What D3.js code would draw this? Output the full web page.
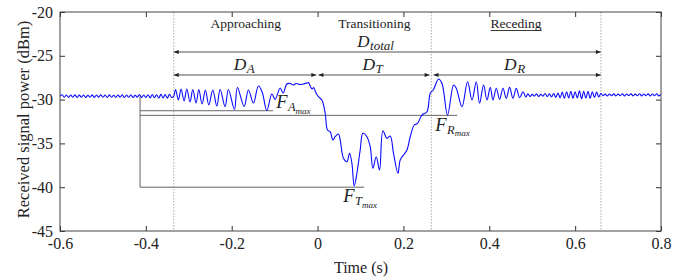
<!DOCTYPE html>
<html><head><meta charset="utf-8">
<script src="https://cdn.jsdelivr.net/npm/d3@7"></script>
<style>body{margin:0;background:#fff} svg{display:block} text{font-family:"Liberation Serif","Times New Roman","DejaVu Serif",serif;}</style>
</head><body>
<svg id="chart" width="689" height="280"></svg>
<script>
// ---------- data ----------
const xTickValues = [-0.6, -0.4, -0.2, 0, 0.2, 0.4, 0.6, 0.8];
const xTickLabels = ["-0.6", "-0.4", "-0.2", "0", "0.2", "0.4", "0.6", "0.8"];
const yTickValues = [-45, -40, -35, -30, -25, -20];
const yTickLabels = ["-45", "-40", "-35", "-30", "-25", "-20"];
const phaseNames = ["Approaching", "Transitioning", "Receding"];
const phaseBounds = [-0.335, 0, 0.265, 0.66];
const durationNames = ["A", "T", "R"];

const sampleStep = 0.005;
const preStart = -0.6;
const prePower = [-29.6,-29.45,-29.72,-29.47,-29.75,-29.48,-29.73,-29.46,-29.75,-29.49,
  -29.72,-29.47,-29.76,-29.5,-29.73,-29.46,-29.75,-29.48,-29.72,-29.46,
  -29.74,-29.48,-29.76,-29.46,-29.73,-29.5,-29.75,-29.48,-29.72,-29.45,
  -29.76,-29.48,-29.74,-29.45,-29.76,-29.5,-29.72,-29.43,-29.77,-29.47,
  -29.75,-29.44,-29.8,-29.42,-29.78,-29.44,-29.82,-29.4,-29.8,-29.42,
  -29.83,-29.4,-29.75];

const eventTimes = [-0.3354,-0.3308,-0.3242,-0.318,-0.311,-0.3047,-0.297,-0.2907,-0.283,-0.2767,
  -0.269,-0.2613,-0.2534,-0.2441,-0.2347,-0.227,-0.2154,-0.2077,-0.1937,-0.1867,
  -0.1711,-0.1611,-0.1494,-0.1378,-0.1291,-0.1182,-0.1065,-0.0988,-0.0872,-0.0802,
  -0.0716,-0.0639,-0.0562,-0.0499,-0.0406,-0.0329,-0.0249,-0.0212,-0.0172,-0.0126,
  -0.0091,-0.0056,-0.0009,0.0021,0.01,0.0177,0.0231,0.0294,0.0357,0.041,
  0.0487,0.0527,0.0604,0.0683,0.0744,0.08,0.0853,0.0916,0.0993,0.1056,
  0.1149,0.1226,0.1289,0.1366,0.1443,0.1522,0.1615,0.1692,0.1769,0.1872,
  0.1925,0.2002,0.2082,0.2159,0.2252,0.2329,0.2431,0.2548,0.2625,0.2695,
  0.2818,0.2897,0.3028,0.3168,0.3231,0.3364,0.3494,0.3597,0.3697,0.3774,
  0.3867,0.3946,0.4023,0.4086,0.4163,0.424,0.4319,0.4396,0.4473,0.4552,
  0.4629,0.4706,0.4786];
const eventPower = [-29.65,-28.85,-30.05,-28.79,-30.16,-28.79,-30.27,-28.85,-30.39,-28.85,
  -30.5,-28.9,-30.62,-28.9,-30.73,-28.85,-30.81,-28.85,-31.13,-28.62,
  -30.79,-28.9,-30.39,-28.45,-29.13,-31.24,-29.36,-29.99,-28.68,-29.25,
  -28.22,-28.16,-28.33,-28.16,-28.28,-28.22,-28.11,-28.05,-28.45,-28.79,
  -28.62,-29.02,-29.48,-29.67,-30.05,-31.53,-33.47,-33.66,-34.61,-34.24,
  -33.93,-34.61,-36.7,-37.09,-36.13,-37.27,-39.86,-38.41,-35.75,-33.85,
  -34.24,-35.38,-37.84,-36.52,-38.04,-33.55,-34.42,-34.16,-36.13,-38.41,
  -36.9,-36.32,-35.75,-34.24,-32.9,-32.71,-31.76,-31.38,-29.28,-28.9,
  -27.65,-28.14,-31.76,-28.33,-28.71,-30.81,-27.96,-30.05,-27.96,-30.42,
  -28.33,-30.05,-28.6,-30.05,-28.71,-29.97,-28.71,-29.85,-28.6,-29.85,
  -28.71,-29.78,-29.1];

const postStart = 0.485;
const postPower = [-29.7,-29.35,-29.65,-29.4,-29.6,-29.35,-29.65,-29.4,-29.6,-29.3,-29.65,-29.35,-29.7,-29.3,-29.75,-29.25,
  -29.8,-29.15,-29.85,-29.1,-29.8,-29.05,-29.85,-29.1,-29.8,-29.0,-29.9,-29.05,-29.8,-29.05,-29.85,-29.1,-29.75,-29.15,-29.7,-29.3,
  -29.55,-29.38,-29.58,-29.36,-29.56,-29.35,-29.58,-29.37,-29.55,-29.34,-29.58,-29.36,-29.54,-29.35,-29.58,-29.37,-29.56,-29.34,-29.58,-29.36,
  -29.55,-29.35,-29.58,-29.36,-29.55,-29.34,-29.57,-29.4];

const levelStart = -0.4135;
const baseLevel = -29.6;
const levelNames = ["A", "R", "T"];
const levelValues = [-31.27, -31.8, -40];
const levelEnds = [-0.1035, 0.3254, 0.1086];

// ---------- layout ----------
const W = 689, H = 280;
const m = {left: 60, right: 28, top: 12, bottom: 49};
const svg = d3.select("#chart");
const x = d3.scaleLinear().domain([-0.6, 0.8]).range([m.left, W - m.right]);
const y = d3.scaleLinear().domain([-45, -20]).range([H - m.bottom, m.top]);

const signal = [];
prePower.forEach((v, i) => signal.push([preStart + i * sampleStep, v]));
eventTimes.forEach((t, i) => signal.push([t, eventPower[i]]));
postPower.forEach((v, i) => signal.push([postStart + i * sampleStep, v]));

// markers
const defs = svg.append("defs");
defs.append("marker").attr("id", "arr").attr("viewBox", "0 0 6 6")
  .attr("markerWidth", 6).attr("markerHeight", 5).attr("refX", 6).attr("refY", 3)
  .attr("markerUnits", "userSpaceOnUse").attr("orient", "auto-start-reverse")
  .append("path").attr("d", "M0,0.5 L6,3 L0,5.5 Z").attr("fill", "#222");

// phase boundary dotted lines
svg.append("g").selectAll("line").data(phaseBounds.filter((d, i) => i !== 1)).join("line")
  .attr("x1", d => x(d)).attr("x2", d => x(d)).attr("y1", y(-20)).attr("y2", y(-45))
  .attr("stroke", "#999").attr("stroke-width", 0.8).attr("stroke-dasharray", "1.5,1.5");

// level lines
const lv = svg.append("g").attr("stroke", "#666").attr("stroke-width", 1).attr("fill", "none");
levelValues.forEach((v, i) => {
  lv.append("line").attr("x1", x(levelStart)).attr("x2", x(levelEnds[i]))
    .attr("y1", y(v)).attr("y2", y(v));
});
lv.append("line").attr("x1", x(levelStart)).attr("x2", x(levelStart))
  .attr("y1", y(baseLevel)).attr("y2", y(-40));

// signal
svg.append("path").datum(signal)
  .attr("fill", "none").attr("stroke", "#0a0aff").attr("stroke-width", 1.1)
  .attr("d", d3.line().x(d => x(d[0])).y(d => y(d[1])).curve(d3.curveCatmullRom.alpha(0.5)));

// axes
function styleAxis(g) {
  g.select(".domain").remove();
  g.attr("font-family", null);
  g.selectAll(".tick line").attr("stroke", "#333");
  g.selectAll(".tick text").attr("font-size", 16).attr("fill", "#222");
}
svg.append("g").attr("transform", `translate(0,${H - m.bottom})`)
  .call(d3.axisBottom(x).tickValues(xTickValues).tickFormat((d, i) => xTickLabels[i])
    .tickSizeInner(-5).tickSizeOuter(0).tickPadding(7)).call(styleAxis);
svg.append("g").attr("transform", `translate(0,${m.top})`)
  .call(d3.axisTop(x).tickValues(xTickValues).tickFormat("").tickSizeInner(-5).tickSizeOuter(0)).call(styleAxis);
svg.append("g").attr("transform", `translate(${m.left},0)`)
  .call(d3.axisLeft(y).tickValues(yTickValues).tickFormat((d, i) => yTickLabels[i])
    .tickSizeInner(-5).tickSizeOuter(0).tickPadding(7)).call(styleAxis);
svg.append("g").attr("transform", `translate(${W - m.right},0)`)
  .call(d3.axisRight(y).tickValues(yTickValues).tickFormat("").tickSizeInner(-5).tickSizeOuter(0)).call(styleAxis);
svg.append("rect").attr("x", m.left).attr("y", m.top)
  .attr("width", W - m.left - m.right).attr("height", H - m.top - m.bottom)
  .attr("fill", "none").attr("stroke", "#444").attr("stroke-width", 1);

// axis titles
svg.append("text").attr("transform", `translate(29,${(m.top + H - m.bottom) / 2 - 2}) rotate(-90)`)
  .attr("text-anchor", "middle").attr("font-size", 16.5).attr("fill", "#222")
  .text("Received signal power (dBm)");
svg.append("text").attr("x", 361).attr("y", 273).attr("text-anchor", "middle")
  .attr("font-size", 16).attr("fill", "#222").text("Time (s)");

// phase names
phaseNames.forEach((name, i) => {
  const cx = (x(phaseBounds[i]) + x(phaseBounds[i + 1])) / 2;
  const t = svg.append("text").attr("x", cx).attr("y", 28).attr("text-anchor", "middle")
    .attr("font-size", 13.5).attr("fill", "#222").text(name);
  if (name === "Receding") {
    const w = t.node().getComputedTextLength();
    svg.append("line").attr("x1", cx - w / 2).attr("x2", cx + w / 2).attr("y1", 30.5).attr("y2", 30.5)
      .attr("stroke", "#222").attr("stroke-width", 0.9);
  }
});

// duration arrows
function arrow(t0, t1, yy) {
  svg.append("line").attr("x1", x(t0)).attr("x2", x(t1)).attr("y1", yy).attr("y2", yy)
    .attr("stroke", "#8c8c8c").attr("stroke-width", 1.3)
    .attr("marker-start", "url(#arr)").attr("marker-end", "url(#arr)");
}
arrow(phaseBounds[0], phaseBounds[3], 52);
arrow(phaseBounds[0], phaseBounds[1] - 0.003, 75);
arrow(phaseBounds[1] + 0.002, phaseBounds[2] - 0.004, 75);
arrow(phaseBounds[2] + 0.005, phaseBounds[3], 75);

function mathLabel(px, py, main, sub, subsub, size) {
  const t = svg.append("text").attr("x", px).attr("y", py)
    .attr("font-style", "italic").attr("fill", "#222");
  t.append("tspan").attr("font-size", size || 18).text(main);
  t.append("tspan").attr("font-size", subsub ? 12.5 : 13).attr("dy", 3).attr("dx", 0.5).text(sub);
  if (subsub) t.append("tspan").attr("font-size", 9).attr("dy", 2.5).text(subsub);
  return t;
}
mathLabel(x((phaseBounds[0] + phaseBounds[3]) / 2) - 30, 46.5, "D", "total", null, 17);
durationNames.forEach((n, i) => {
  const cx = (x(phaseBounds[i]) + x(phaseBounds[i + 1])) / 2;
  mathLabel(cx - 12, 70, "D", n, null, 17.5);
});

// F labels
mathLabel(x(levelEnds[0]) + 3, y(levelValues[0]) - 2.5, "F", "A", "max", 18.5);
mathLabel(x(0.274), y(levelValues[1]) + 15.5, "F", "R", "max", 18.5);
mathLabel(x(0.0597), y(levelValues[2]) + 15, "F", "T", "max", 18.5);
</script>
</body></html>
